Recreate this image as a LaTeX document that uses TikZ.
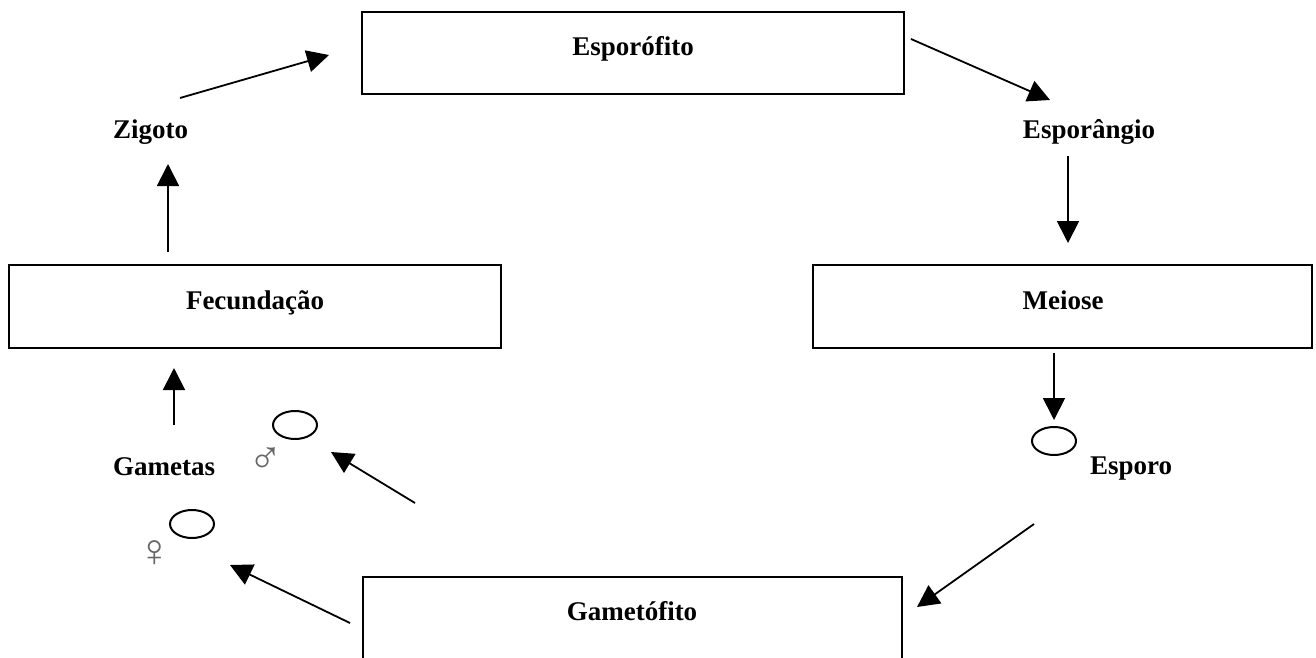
\documentclass[tikz,border=0pt]{standalone}
\usepackage{fontspec}
\setmainfont{Liberation Serif}
\usetikzlibrary{arrows.meta}
\tikzset{
  stagebox/.style={draw, line width=1.6pt, rectangle},
  lbl/.style={font=\fontsize{27}{30}\selectfont\bfseries, inner sep=0pt},
  sexsym/.style={font=\fontsize{46}{48}\selectfont, text=black!60, inner sep=0pt},
  cell/.style={draw, line width=2pt, ellipse, minimum width=44pt, minimum height=28pt, inner sep=0pt},
  flow/.style={line width=1.8pt, -{Triangle[length=22pt,width=22pt]}}
}
\usetikzlibrary{shapes.geometric}
\begin{document}
\begin{tikzpicture}[x=1pt,y=-1pt]
\useasboundingbox (0,0) rectangle (1316,658);
\clip (0,0) rectangle (1316,658);
% boxes
\draw[stagebox] (362,12) rectangle (904,94);
\draw[stagebox] (9,265) rectangle (501,348);
\draw[stagebox] (813,265) rectangle (1312,348);
\draw[stagebox] (363,577) rectangle (902,700);
\node[lbl, anchor=base] (esporofito) at (633,56) {Esporófito};
\node[lbl, anchor=base] (fecundacao) at (255,309) {Fecundação};
\node[lbl, anchor=base] (meiose) at (1063,309) {Meiose};
\node[lbl, anchor=base] (gametofito) at (632,620) {Gametófito};
% labels
\node[lbl, anchor=base west] (zigoto) at (113,139) {Zigoto};
\node[lbl, anchor=base] (esporangio) at (1089,139) {Esporângio};
\node[lbl, anchor=base west] (gametas) at (113,475) {Gametas};
\node[lbl, anchor=base west] (esporo) at (1090,474) {Esporo};
\node[sexsym] (macho) at (266,461) {♂};
\node[sexsym] (femea) at (155,554) {♀};
% cells
\node[cell] (cellm) at (295,425) {};
\node[cell] (cellf) at (192,524) {};
\node[cell] (cells) at (1054,441) {};
% arrow endpoints
\coordinate (a1s) at (180,98);   \coordinate (a1e) at (329,55);
\coordinate (a2s) at (911,39);   \coordinate (a2e) at (1050,100);
\coordinate (a3s) at (1068,156); \coordinate (a3e) at (1068,243);
\coordinate (a4s) at (1054,353); \coordinate (a4e) at (1054,420);
\coordinate (a5s) at (1034,524); \coordinate (a5e) at (917,607);
\coordinate (a6s) at (350,623);  \coordinate (a6e) at (230,565);
\coordinate (a7s) at (415,503);  \coordinate (a7e) at (331,452);
\coordinate (a8s) at (174,425);  \coordinate (a8e) at (174,368);
\coordinate (a9s) at (168,252);  \coordinate (a9e) at (168,164);
\draw[flow] (a1s) -- (a1e);
\draw[flow] (a2s) -- (a2e);
\draw[flow] (a3s) -- (a3e);
\draw[flow] (a4s) -- (a4e);
\draw[flow] (a5s) -- (a5e);
\draw[flow] (a6s) -- (a6e);
\draw[flow] (a7s) -- (a7e);
\draw[flow] (a8s) -- (a8e);
\draw[flow] (a9s) -- (a9e);
\end{tikzpicture}
\end{document}
